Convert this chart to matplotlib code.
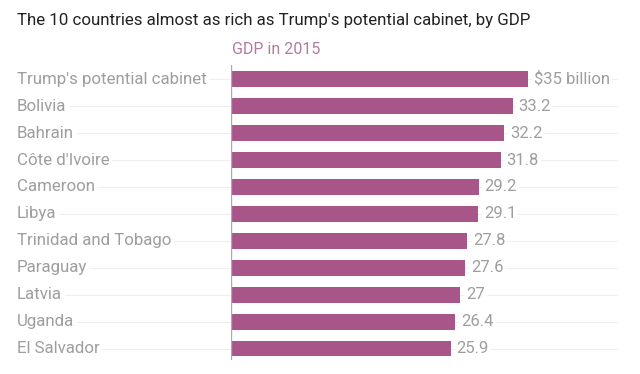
import matplotlib as mpl
mpl.use('Agg')
import matplotlib.pyplot as plt

countries = ["Trump's potential cabinet", "Bolivia", "Bahrain", "Côte d'Ivoire",
             "Cameroon", "Libya", "Trinidad and Tobago", "Paraguay", "Latvia",
             "Uganda", "El Salvador"]
gdp = [35, 33.2, 32.2, 31.8, 29.2, 29.1, 27.8, 27.6, 27, 26.4, 25.9]
value_labels = ["$35 billion", "33.2", "32.2", "31.8", "29.2", "29.1", "27.8",
                "27.6", "27", "26.4", "25.9"]

plt.rcParams['font.family'] = ['Roboto', 'DejaVu Sans']

bar_color = '#a8558a'
label_color = '#9e9e9e'

fig = plt.figure(figsize=(6.4, 3.74), dpi=100)
ax = fig.add_axes([231 / 640, 1 - 360 / 374, 386 / 640, 295 / 374])

ys = list(range(len(countries)))
left_edge = (17 - 231) / 386  # label column start, in axes coords

# faint row rules running behind the labels
ax.hlines(ys, left_edge, 1, transform=ax.get_yaxis_transform(),
          color='#eeeeee', lw=0.8, zorder=0, clip_on=False)

ax.barh(ys, gdp, height=0.56, color=bar_color, zorder=2)

for y, name in zip(ys, countries):
    ax.text(left_edge, y, name, transform=ax.get_yaxis_transform(),
            ha='left', va='center', fontsize=12.2, color=label_color,
            bbox=dict(facecolor='white', edgecolor='none', pad=2), zorder=3)

for y, v, s in zip(ys, gdp, value_labels):
    ax.text(v + 0.7, y, s, ha='left', va='center', fontsize=12,
            color=label_color, zorder=3,
            bbox=dict(facecolor='white', edgecolor='none', pad=1.5))

ax.set_xlim(0, 45.5)
ax.set_ylim(10.41, -0.52)
ax.axvline(0, color='#aaaaaa', lw=1, zorder=4)
for sp in ax.spines.values():
    sp.set_visible(False)
ax.set_xticks([])
ax.set_yticks([])

fig.text(17 / 640, 1 - 20 / 374, "The 10 countries almost as rich as Trump's potential cabinet, by GDP",
         ha='left', va='center', fontsize=12.2, color='#222222',
         family=['Liberation Sans Narrow', 'Roboto', 'DejaVu Sans'])
fig.text(232 / 640, 1 - 50 / 374, "GDP in 2015", ha='left', va='center',
         fontsize=11.5, color='#b27aa0')

fig.savefig('out.png', dpi=100, facecolor='white')
